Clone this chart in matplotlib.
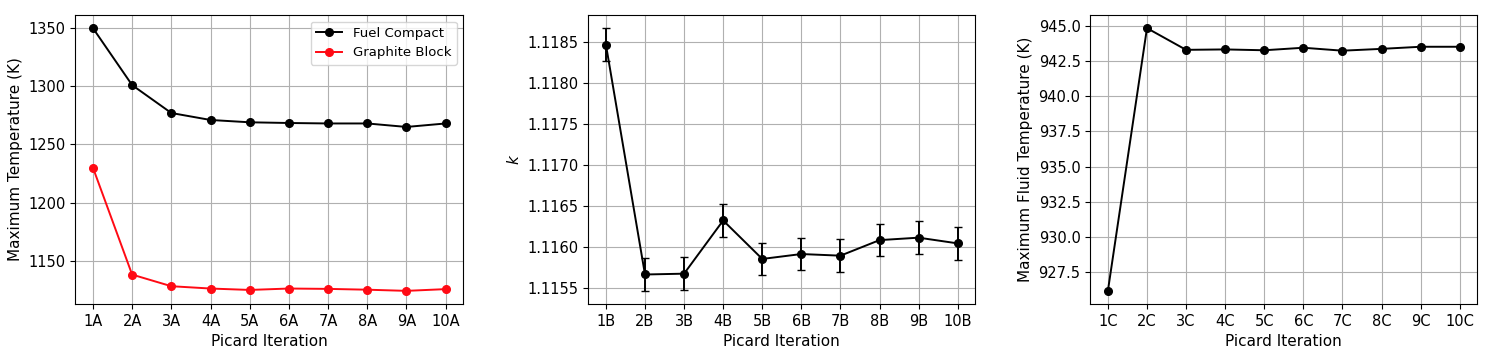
import numpy as np
import matplotlib
matplotlib.use("Agg")
import matplotlib.pyplot as plt

# datos
iters = list(range(1, 11))
labels_a = ["%dA" % i for i in iters]
labels_b = ["%dB" % i for i in iters]
labels_c = ["%dC" % i for i in iters]

fuel_compact = [1350, 1301, 1277, 1271, 1269, 1268.4, 1268, 1268, 1265, 1268]
graphite_block = [1230, 1138, 1128, 1126, 1124.8, 1126, 1125.7, 1125, 1124, 1125.5]

k_eff = [1.11847, 1.11566, 1.11567, 1.11632, 1.11585, 1.11591, 1.11589, 1.11608, 1.11611, 1.11604]
k_err = [0.0002, 0.0002, 0.0002, 0.0002, 0.0002, 0.0002, 0.0002, 0.0002, 0.0002, 0.0002]

fluid_temp = [926.12, 944.88, 943.33, 943.36, 943.3, 943.48, 943.27, 943.4, 943.55, 943.55]

plt.rcParams['font.size'] = 11
plt.rcParams['xtick.labelsize'] = 10.5
plt.rcParams['ytick.labelsize'] = 10.5

fig = plt.figure(figsize=(14.93, 3.55), dpi=100)
W, H = 1493.0, 355.0
bot = 1 - 304 / H
hgt = (304 - 15) / H
ax1 = fig.add_axes([75.3 / W, bot, 388 / W, hgt])
ax2 = fig.add_axes([588.3 / W, bot, 387 / W, hgt])
ax3 = fig.add_axes([1090.3 / W, bot, 387 / W, hgt])

# Panel 1
ax1.plot(iters, fuel_compact, color='k', marker='o', ms=5.5, lw=1.4, label='Fuel Compact')
ax1.plot(iters, graphite_block, color='#ff0a14', marker='o', ms=5.5, lw=1.4, label='Graphite Block')
ax1.set_xticks(iters)
ax1.set_xticklabels(labels_a)
ax1.set_xlabel('Picard Iteration')
ax1.set_ylabel('Maximum Temperature (K)')
ax1.grid(True)
ax1.legend(loc='upper right', fontsize=9.5)

# Panel 2
ax2.errorbar(iters, k_eff, yerr=k_err, color='k', marker='o', ms=5.5, lw=1.4, capsize=3)
ax2.set_xticks(iters)
ax2.set_xticklabels(labels_b)
ax2.set_xlabel('Picard Iteration')
ax2.set_ylabel(r'$k$')
ax2.ticklabel_format(axis='y', useOffset=False)
ax2.grid(True)

# Panel 3
ax3.plot(iters, fluid_temp, color='k', marker='o', ms=5.5, lw=1.4)
ax3.set_xticks(iters)
ax3.set_xticklabels(labels_c)
ax3.set_xlabel('Picard Iteration')
ax3.set_ylabel('Maximum Fluid Temperature (K)')
ax3.grid(True)

fig.savefig('out.png', dpi=100)
